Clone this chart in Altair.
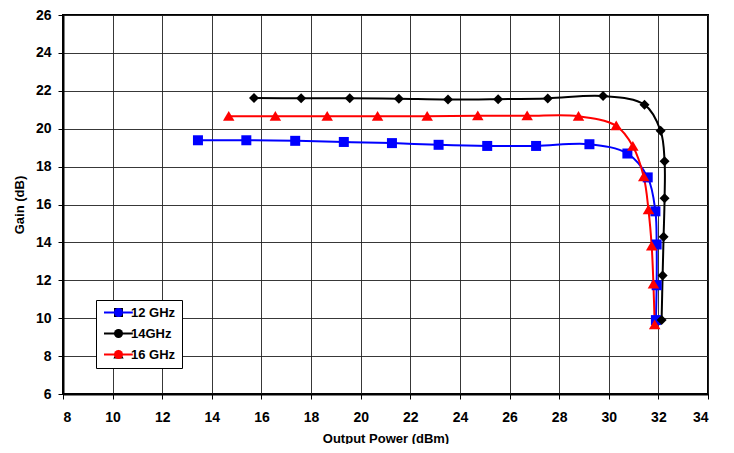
import altair as alt
import pandas as pd

series = ["12 GHz", "14GHz", "16 GHz"]
colors = ["#0000FF", "#000000", "#FF0000"]

x12 = [13.44, 15.39, 17.36, 19.32, 21.26, 23.14, 25.10, 27.07, 29.22, 30.75, 31.57, 31.88, 31.93, 31.93, 31.90]
y12 = [19.39, 19.39, 19.36, 19.30, 19.24, 19.15, 19.09, 19.09, 19.18, 18.69, 17.43, 15.64, 13.89, 11.74, 9.90]

x14 = [15.70, 17.60, 19.56, 21.54, 23.52, 25.54, 27.54, 29.77, 31.44, 32.09, 32.25, 32.25, 32.21, 32.17, 32.13]
y14 = [21.62, 21.61, 21.61, 21.58, 21.54, 21.56, 21.60, 21.72, 21.27, 19.89, 18.28, 16.33, 14.30, 12.25, 9.90]

x16 = [14.68, 16.56, 18.65, 20.68, 22.68, 24.72, 26.71, 28.78, 30.30, 30.97, 31.41, 31.60, 31.73, 31.80, 31.85]
y16 = [20.66, 20.66, 20.66, 20.66, 20.66, 20.68, 20.68, 20.66, 20.15, 19.08, 17.46, 15.72, 13.81, 11.81, 9.65]

x_ticks = list(range(8, 35, 2))
y_ticks = list(range(6, 27, 2))

rows = []
for name, xs, ys in zip(series, [x12, x14, x16], [y12, y14, y16]):
    for i, (a, b) in enumerate(zip(xs, ys)):
        rows.append({"series": name, "pout": a, "gain": b, "idx": i})
df = pd.DataFrame(rows)

FONT = "Liberation Sans"

shape_paths = [
    "square",
    "diamond",
    "M0,-1.05L1.15,0.9L-1.15,0.9Z",
]

LX, LY = 33, 285

line_legend = alt.Legend(
    title=None,
    orient="none",
    legendX=LX,
    legendY=LY,
    direction="vertical",
    labelFont=FONT,
    labelFontSize=13,
    labelFontWeight="bold",
    labelColor="black",
    labelOffset=16,
    symbolType="M-1,0H5.4",
    symbolSize=81,
    symbolStrokeWidth=2,
    rowPadding=7,
    padding=6,
    strokeColor="black",
    fillColor="white",
    zindex=1,
)

point_legend = alt.Legend(
    title=None,
    orient="none",
    legendX=LX + 10,
    legendY=LY,
    direction="vertical",
    labelFont=FONT,
    labelFontSize=13,
    labelFontWeight="bold",
    labelExpr="''",
    labelOffset=16,
    symbolSize=81,
    symbolStrokeWidth=0,
    rowPadding=7,
    padding=6,
    zindex=2,
)

xenc = alt.X(
    "pout:Q",
    title="Output Power (dBm)",
    scale=alt.Scale(domain=[8, 34], nice=False, zero=False),
    axis=alt.Axis(values=x_ticks, format="d", labelPadding=11),
)
yenc = alt.Y(
    "gain:Q",
    title="Gain (dB)",
    scale=alt.Scale(domain=[6, 26], nice=False, zero=False),
    axis=alt.Axis(values=y_ticks, format="d", labelPadding=7),
)

lines = alt.Chart(df).mark_line(interpolate="catmull-rom", strokeWidth=2).encode(
    x=xenc,
    y=yenc,
    color=alt.Color("series:N", scale=alt.Scale(domain=series, range=colors), legend=line_legend, sort=series),
    order="idx:Q",
    detail="series:N",
)

points = alt.Chart(df).mark_point(filled=True, opacity=1, size=100, strokeWidth=0).encode(
    x=xenc,
    y=yenc,
    color=alt.Color("series:N", scale=alt.Scale(domain=series, range=colors), legend=point_legend, sort=series),
    shape=alt.Shape("series:N", scale=alt.Scale(domain=series, range=shape_paths), legend=point_legend, sort=series),
)

chart = (
    alt.layer(lines, points)
    .resolve_scale(color="independent")
    .properties(
        width=645,
        height=379,
        autosize=alt.AutoSizeParams(type="none"),
        padding={"left": 55, "top": 7, "right": 16, "bottom": 50},
        background="white",
    )
    .configure_view(stroke="black", strokeWidth=2)
    .configure_axis(
        labelFont=FONT,
        labelFontSize=14,
        labelFontWeight="bold",
        labelColor="black",
        titleFont=FONT,
        titleFontSize=13,
        titleFontWeight="bold",
        titleColor="black",
        gridColor="#222222",
        gridWidth=1,
        gridOpacity=0.9,
        domainColor="black",
        domainWidth=2,
        tickColor="black",
        tickSize=5,
        tickWidth=1,
    )
    .configure_axisX(titlePadding=8)
    .configure_axisY(titlePadding=9)
)

chart.save("out.html", embed_options={"renderer": "svg", "actions": False})
